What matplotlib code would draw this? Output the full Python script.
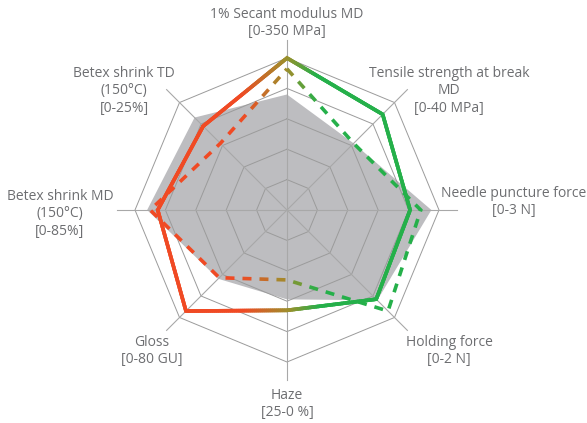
import numpy as np
import matplotlib.pyplot as plt
from matplotlib.collections import LineCollection

# axes, clockwise from the top, with their scale ranges (lo -> hi)
labels = [
    "1% Secant modulus MD\n[0-350 MPa]",
    "Tensile strength at break\nMD\n[0-40 MPa]",
    "Needle puncture force\n[0-3 N]",
    "Holding force\n[0-2 N]",
    "Haze\n[25-0 %]",
    "Gloss\n[0-80 GU]",
    "Betex shrink MD\n(150°C)\n[0-85%]",
    "Betex shrink TD\n(150°C)\n[0-25%]",
]
range_lo = [0, 0, 0, 0, 25, 0, 0, 0]
range_hi = [350, 40, 3, 2, 0, 80, 85, 25]

# measured values in the units of each axis
reference = [266, 24.8, 2.85, 1.68, 10.3, 51.2, 78.2, 21.5]   # grey area
film_solid = [350, 35.6, 2.43, 1.66, 8.5, 75.2, 72.3, 19.5]
film_dashed = [325, 24.8, 2.64, 1.88, 13.5, 50.4, 76.5, 15.5]

# label centres in pixels of the 587x423 picture
label_px = [(287, 23), (449, 91), (514, 202), (449, 351),
            (287, 404), (152, 351), (60, 214), (124, 91)]

W, H = 587, 423
CX, CY = 287, 210
R_PX = 152.0

RED = np.array([240, 74, 36]) / 255
OLIVE = np.array([157, 143, 44]) / 255
GREEN = np.array([37, 176, 74]) / 255
TEXT = "#6d6e71"

n = len(labels)
theta = np.pi / 2 - 2 * np.pi * np.arange(n) / n


def norm(vals):
    v = np.asarray(vals, float)
    return (v - np.array(range_lo)) / (np.array(range_hi) - np.array(range_lo))


def polygon(r):
    x = r * np.cos(theta)
    y = r * np.sin(theta)
    return np.column_stack([np.append(x, x[0]), np.append(y, y[0])])


def colour_at(x):
    if x <= -0.3:
        return RED
    if x < 0:
        t = (x + 0.3) / 0.3
        return RED * (1 - t) + OLIVE * t
    if x < 0.2:
        t = x / 0.2
        return OLIVE * (1 - t) + GREEN * t
    return GREEN


def gradient_line(ax, r, dashed=False, lw=2.6):
    pts = polygon(r)
    ext = np.vstack([pts[:-1], pts[:-1], pts[:1]])
    cum = np.concatenate([[0], np.cumsum(np.hypot(*np.diff(ext, axis=0).T))])
    total = cum[n]

    def at(s):
        return [np.interp(s, cum, ext[:, 0]), np.interp(s, cum, ext[:, 1])]

    def piece(s0, s1):
        inner = ext[(cum > s0) & (cum < s1)]
        return np.vstack([[at(s0)], inner, [at(s1)]])

    if dashed:
        period, dash = 17 / R_PX, 9 / R_PX
        starts = np.arange(0, total - 1e-9, period)
        spans = [(s, min(s + dash, total)) for s in starts]
        cap = "butt"
    else:
        step = 2 / R_PX
        off = cum[1] / 2
        starts = np.arange(off, off + total - 1e-9, step)
        spans = [(s, min(s + step, off + total)) for s in starts]
        cap = "projecting"
    segs = [piece(a, b) for a, b in spans]
    cols = [colour_at(at((a + b) / 2)[0]) for a, b in spans]
    lc = LineCollection(segs, colors=cols, linewidths=lw,
                        capstyle=cap, joinstyle="miter", zorder=4)
    ax.add_collection(lc)


fig = plt.figure(figsize=(W / 100, H / 100), dpi=100)
ax = fig.add_axes([0, 0, 1, 1])
ax.set_xlim(-CX / R_PX, (W - CX) / R_PX)
ax.set_ylim(-(H - CY) / R_PX, CY / R_PX)
ax.axis("off")

ref = polygon(norm(reference))
ax.fill(ref[:, 0], ref[:, 1], color="#bdbdc0", lw=0, zorder=1)

for rr in np.linspace(0.2, 1.0, 5):
    ring = polygon(np.full(n, rr))
    ax.plot(ring[:, 0], ring[:, 1], color="#9b9b9b", lw=0.7, zorder=2)
for t in theta:
    ax.plot([0, 1.12 * np.cos(t)], [0, 1.12 * np.sin(t)],
            color="#a8a8a8", lw=0.8, zorder=2)

gradient_line(ax, norm(film_dashed), dashed=True)
gradient_line(ax, norm(film_solid))

for lab, (px, py) in zip(labels, label_px):
    ax.text((px - CX) / R_PX, (CY - py) / R_PX, lab, ha="center", va="center",
            ma="center", fontsize=10, color=TEXT, family="Open Sans",
            linespacing=1.2)

fig.savefig("out.png", dpi=100)
